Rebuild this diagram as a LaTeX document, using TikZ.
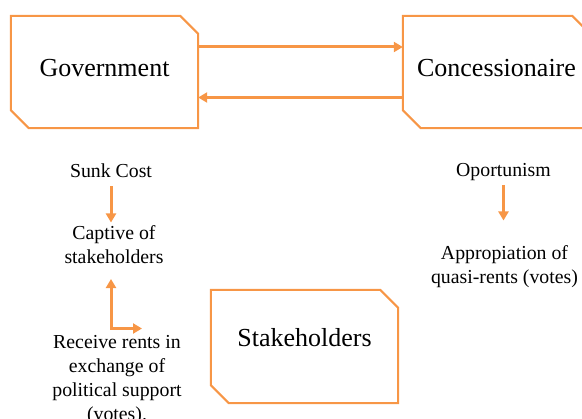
\documentclass[tikz,border=0pt]{standalone}
\usepackage{fontspec}
\setmainfont{Liberation Serif}
\usetikzlibrary{arrows.meta}
\definecolor{acc}{HTML}{F79646}
\begin{document}
\begin{tikzpicture}[x=1pt,y=-1pt,
  boxshape/.style={minimum width=187pt,minimum height=112pt,inner sep=0pt,draw=none},
  bigtext/.style={font=\fontsize{26}{31}\selectfont,inner sep=0pt},
  smalltext/.style={font=\fontsize{19.8}{24}\selectfont,align=center,inner sep=3pt},
  boxline/.style={draw=acc,line width=2pt,line join=miter},
  flow/.style={draw=acc,line width=3pt,-{Triangle[width=10pt,length=9pt]}},
  lflow/.style={draw=acc,line width=3pt,line join=miter,{Triangle[width=10pt,length=9pt]}-{Triangle[width=10pt,length=9pt]}},
]
\useasboundingbox (0,0) rectangle (582,419);

% boxes
\node[boxshape] (gov) at (104.5,72) {};
\node[boxshape] (con) at (496.5,72) {};
\node[boxshape,minimum height=113pt] (stake) at (304.5,346.5) {};

\foreach \b in {gov,con,stake}{
  \draw[boxline] ([xshift=-18pt]\b.north east) -- ([yshift=-18pt]\b.north east) -- (\b.south east)
    -- ([xshift=18pt]\b.south west) -- ([yshift=18pt]\b.south west) -- (\b.north west) -- cycle;
}

\node[bigtext] (govtext) at ([yshift=4pt]gov.center) {Government};
\node[bigtext] (context) at ([yshift=4pt]con.center) {Concessionaire};
\node[bigtext] (staketext) at ([yshift=8.5pt]stake.center) {Stakeholders};

% arrows between government and concessionaire
\draw[flow] ([yshift=25pt]gov.east) -- ([yshift=25pt]con.west);
\draw[flow] ([yshift=-25.5pt]con.west) -- ([yshift=-25.5pt]gov.east);

% left column
\node[smalltext] (sunk) at (111,171) {Sunk Cost};
\node[smalltext,anchor=north] (captive) at (114,222.5) {Captive of\\stakeholders};
\node[smalltext,anchor=north] (receive) at (117,332) {Receive rents in\\exchange of\\political support\\(votes).};

\draw[flow,shorten <=5pt] (sunk.south) -- (sunk.south |- captive.north);

\coordinate (corner) at (111,328.5);
\coordinate (lend) at (142,328.5);
\draw[lflow,shorten <=12pt] (captive.south -| corner) -- (corner) -- (lend);

% right column
\node[smalltext] (oport) at (503.5,172) {Oportunism};
\node[smalltext,anchor=north] (approp) at (504.5,242.5) {Appropiation of\\quasi-rents (votes)};
\draw[flow,shorten <=1pt,shorten >=22pt] (oport.south) -- (oport.south |- approp.north);
\end{tikzpicture}
\end{document}
